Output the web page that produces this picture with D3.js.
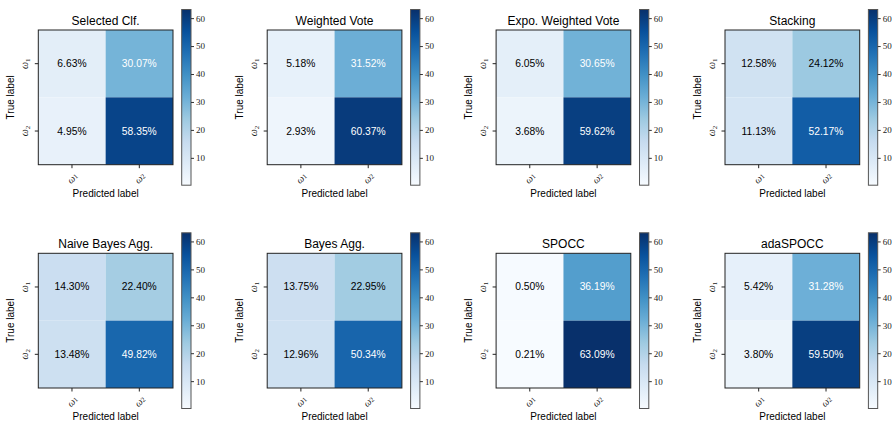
<!DOCTYPE html>
<html><head><meta charset="utf-8">
<script src="https://cdn.jsdelivr.net/npm/d3@7"></script>
<style>body{margin:0;background:#fff}svg{display:block}</style>
</head><body>
<svg id="chart" width="893" height="425"></svg>
<script>
// ---- data ----
const methods = ["Selected Clf.", "Weighted Vote", "Expo. Weighted Vote", "Stacking",
                 "Naive Bayes Agg.", "Bayes Agg.", "SPOCC", "adaSPOCC"];
const classes = ["1", "2"]; // ω1, ω2
// cell values (%) : row = true label, col = predicted label
const c11 = [6.63, 5.18, 6.05, 12.58, 14.30, 13.75, 0.50, 5.42];
const c12 = [30.07, 31.52, 30.65, 24.12, 22.40, 22.95, 36.19, 31.28];
const c21 = [4.95, 2.93, 3.68, 11.13, 13.48, 12.96, 0.21, 3.80];
const c22 = [58.35, 60.37, 59.62, 52.17, 49.82, 50.34, 63.09, 59.50];
const cbTicks = [10, 20, 30, 40, 50, 60];

const blues = ['#f7fbff','#deebf7','#c6dbef','#9ecae1','#6baed6','#4292c6','#2171b5','#08519c','#08306b'];

const svg = d3.select("#chart");
const all = c11.concat(c12, c21, c22);
const vmin = d3.min(all), vmax = d3.max(all);
const cmap = d3.scaleLinear().domain(d3.range(9).map(i => i / 8)).range(blues).interpolate(d3.interpolateRgb);
const norm = d3.scaleLinear().domain([vmin, vmax]).range([0, 1]).clamp(true);
const color = v => cmap(norm(v));

const defs = svg.append("defs");
const grad = defs.append("linearGradient").attr("id", "cbgrad")
  .attr("x1", 0).attr("y1", 1).attr("x2", 0).attr("y2", 0);
d3.range(0, 1.0001, 0.125).forEach(t => grad.append("stop").attr("offset", t).attr("stop-color", cmap(t)));

const sans = "'Liberation Sans', Arial, Helvetica, sans-serif";
const serif = "'Liberation Serif', 'DejaVu Serif', serif";
const S = 134.7;
const colStep = 228.9, rowStep = 223.3;
const x0 = 38.3, y0 = 30;

methods.forEach((name, i) => {
  const col = i % 4, row = Math.floor(i / 4);
  const ox = x0 + col * colStep, oy = y0 + row * rowStep;
  const g = svg.append("g").attr("transform", `translate(${ox},${oy})`);
  const m = [[c11[i], c12[i]], [c21[i], c22[i]]];
  const x = d3.scaleBand().domain(classes).range([0, S]);
  const y = d3.scaleBand().domain(classes).range([0, S]);
  const thresh = d3.max([c11[i], c12[i], c21[i], c22[i]]) / 2;

  const cells = [];
  classes.forEach((r, ri) => classes.forEach((c, ci) => cells.push({r, c, v: m[ri][ci]})));
  g.selectAll("rect.cell").data(cells).join("rect").attr("class", "cell")
    .attr("x", d => x(d.c)).attr("y", d => y(d.r))
    .attr("width", x.bandwidth()).attr("height", y.bandwidth())
    .attr("fill", d => color(d.v));
  g.selectAll("text.val").data(cells).join("text").attr("class", "val")
    .attr("x", d => x(d.c) + x.bandwidth() / 2).attr("y", d => y(d.r) + y.bandwidth() / 2)
    .attr("text-anchor", "middle").attr("dominant-baseline", "central")
    .attr("font-family", sans).attr("font-size", 10.3)
    .attr("fill", d => d.v > thresh ? "#fff" : "#000")
    .text(d => d.v.toFixed(2) + "%");
  g.append("rect").attr("width", S).attr("height", S).attr("fill", "none")
    .attr("stroke", "#222").attr("stroke-width", 1);

  const ax = g.append("g").attr("transform", `translate(0,${S})`)
    .call(d3.axisBottom(x).tickSize(3.5).tickFormat(""));
  const ay = g.append("g").call(d3.axisLeft(y).tickSize(3.5).tickFormat(""));
  [ax, ay].forEach(a => { a.select(".domain").remove(); a.selectAll("line").attr("stroke", "#222"); });

  classes.forEach(c => {
    const tx = g.append("text")
      .attr("transform", `translate(${x(c) + x.bandwidth() / 2},${S + 13}) rotate(-45)`)
      .attr("text-anchor", "middle").attr("dominant-baseline", "central")
      .attr("font-family", serif).attr("font-size", 10).attr("fill", "#222");
    tx.append("tspan").attr("font-style", "italic").text("ω");
    tx.append("tspan").attr("font-size", 7).attr("dy", 2).text(c);
    const ty = g.append("text")
      .attr("transform", `translate(${-10.5},${y(c) + y.bandwidth() / 2}) rotate(-90)`)
      .attr("text-anchor", "middle")
      .attr("font-family", serif).attr("font-size", 10).attr("fill", "#222");
    ty.append("tspan").attr("font-style", "italic").text("ω");
    ty.append("tspan").attr("font-size", 7).attr("dy", 2).text(c);
  });

  g.append("text").attr("x", S / 2).attr("y", -5).attr("text-anchor", "middle")
    .attr("font-family", sans).attr("font-size", 12).attr("fill", "#000").text(name);
  g.append("text").attr("x", S / 2).attr("y", S + 32).attr("text-anchor", "middle")
    .attr("font-family", sans).attr("font-size", 10).attr("fill", "#000").text("Predicted label");
  g.append("text").attr("transform", `translate(-24.5,${S / 2}) rotate(-90)`).attr("text-anchor", "middle")
    .attr("font-family", sans).attr("font-size", 10).attr("fill", "#000").text("True label");

  const cbx = 143.4, cbTop = -20.5, cbH = S + 41, cbW = 9.3;
  const cb = g.append("g").attr("transform", `translate(${cbx},${cbTop})`);
  cb.append("rect").attr("width", cbW).attr("height", cbH).attr("fill", "url(#cbgrad)")
    .attr("stroke", "#555").attr("stroke-width", 1);
  const cs = d3.scaleLinear().domain([vmin, vmax]).range([cbH, 0]);
  const ca = cb.append("g").attr("transform", `translate(${cbW},0)`)
    .call(d3.axisRight(cs).tickValues(cbTicks).tickSize(3).tickPadding(2));
  ca.attr("font-family", serif);
  ca.select(".domain").remove();
  ca.selectAll("line").attr("stroke", "#333");
  ca.selectAll("text").attr("font-family", serif).attr("font-size", 9).attr("fill", "#222");
});
</script>
</body></html>
